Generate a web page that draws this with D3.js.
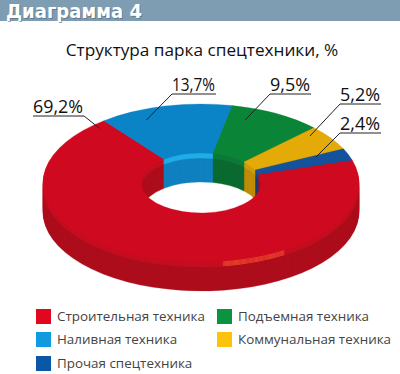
<!DOCTYPE html>
<html>
<head>
<meta charset="utf-8">
<script src="https://cdn.jsdelivr.net/npm/d3@7/dist/d3.min.js"></script>
<style>
  html, body { margin: 0; padding: 0; background: #fff; }
  text { font-family: "Open Sans", sans-serif; }
</style>
</head>
<body>
<div id="vis"></div>
<script>
// the data
const categories = ["Строительная техника", "Наливная техника", "Подъемная техника", "Коммунальная техника", "Прочая спецтехника"];
const shares = [69.2, 13.7, 9.5, 5.2, 2.4];
const shareLabels = ["69,2%", "13,7%", "9,5%", "5,2%", "2,4%"];

// colours per slice
const topColors = ["#cf0a20", "#0a84c6", "#0a8538", "#e3aa08", "#14529c"];
const wallColors = ["#ad0d1c", "#1080c0", "#0a6a30", "#c08c08", "#123e78"];
const rimColors = ["#c40e20", "#20ade6", "#0c7a38", "#d09c08", "#14488a"];
const legendColors = ["#e0081f", "#109ae0", "#0a9440", "#fcc30a", "#0a57a8"];

const width = 400
const height = 374

// donut size, ellipse squash and thickness
const cx = 201, cy = 183, rOuter = 158, rInner = 60, squash = 0.5, depth = 29, rim = 5
const startDeg = 73

// label layout: text left, underline y, underline length, which end the leader leaves,
// and where it lands inside the slice
const labelX = [33, 172, 270, 340, 340]
const labelY = [116, 94, 94, 104, 133]
const labelW = [51, 44, 41, 41, 41]
const leaderFrac = [0.98, 0.29, 0.23, 0.19, 0.16]
const leaderR = [149, 137, 133, 144, 126]
const leaderFromRight = [true, false, false, false, false]

// legend layout
const legendX = [36, 36, 217, 217, 36]
const legendY = [309, 332, 309, 332, 356]
const legendOrder = [0, 1, 2, 3, 4]

const svg = d3.select("#vis").append("svg")
  .attr("width", width)
  .attr("height", height)
  .style("display", "block");

// header band
svg.append("rect").attr("width", width).attr("height", 21).attr("fill", "#7f9db2");
svg.append("text").attr("x", 7).attr("y", 19)
  .attr("fill", "#55636e").attr("opacity", 0.6)
  .attr("textLength", 136).attr("lengthAdjust", "spacingAndGlyphs")
  .style("font-family", "'DejaVu Sans'").style("font-weight", "bold").style("font-size", "19px")
  .text("Диаграмма 4");
svg.append("text").attr("x", 6).attr("y", 18)
  .attr("fill", "#fff")
  .attr("textLength", 136).attr("lengthAdjust", "spacingAndGlyphs")
  .style("font-family", "'DejaVu Sans'").style("font-weight", "bold").style("font-size", "19px")
  .text("Диаграмма 4");

// title
svg.append("text").attr("x", 202).attr("y", 56)
  .attr("text-anchor", "middle").attr("fill", "#111")
  .style("font-size", "17.2px")
  .text("Структура парка спецтехники, %");

const rad = d => d * Math.PI / 180;
const pie = d3.pie().sort(null).startAngle(rad(startDeg)).endAngle(rad(startDeg + 360));
const slices = pie(shares);
const arc = d3.arc().innerRadius(rInner).outerRadius(rOuter);

// stack of rings from the bottom up, the top one is the face
const chart = svg.append("g");
d3.range(depth, -1, -1).forEach(function(dy) {
  chart.append("g")
    .attr("transform", `translate(${cx},${cy + dy}) scale(1,${squash})`)
    .selectAll("path")
    .data(slices)
    .enter()
    .append("path")
      .attr("d", arc)
      .attr("fill", (d, i) => dy == 0 ? topColors[i] : (dy <= rim ? rimColors[i] : wallColors[i]))
      .attr("stroke", (d, i) => dy == 0 ? topColors[i] : (dy <= rim ? rimColors[i] : wallColors[i]))
      .attr("stroke-width", 0.4);

  // light glare on the front rim, it has to sit under the face
  if (dy > 0 && dy <= rim) {
    chart.append("path")
      .attr("transform", `translate(${cx},${cy + dy}) scale(1,${squash})`)
      .attr("d", d3.arc().innerRadius(rOuter - 4).outerRadius(rOuter)({ startAngle: rad(148), endAngle: rad(172) }))
      .attr("fill", "#e8452e");
  }
});

// leaders and value labels
shares.forEach(function(v, i) {
  const s = slices[i];
  const a = s.startAngle + leaderFrac[i] * (s.endAngle - s.startAngle);
  const p = d3.pointRadial(a, leaderR[i]);
  const ex = cx + p[0], ey = cy + p[1] * squash;
  const fromX = leaderFromRight[i] ? labelX[i] + labelW[i] : labelX[i];
  svg.append("path")
    .attr("d", d3.line()([[leaderFromRight[i] ? labelX[i] : labelX[i] + labelW[i], labelY[i]], [fromX, labelY[i]], [ex, ey]]))
    .attr("fill", "none").attr("stroke", "#222").attr("stroke-width", 1);
  svg.append("text").attr("x", labelX[i]).attr("y", labelY[i] - 3)
    .attr("fill", "#111").style("font-size", "17.5px")
    .attr("textLength", labelW[i] - 1).attr("lengthAdjust", "spacingAndGlyphs")
    .text(shareLabels[i]);
});

// legend
legendOrder.forEach(function(k, i) {
  svg.append("rect").attr("x", legendX[i]).attr("y", legendY[i])
    .attr("width", 15).attr("height", 15).attr("fill", legendColors[k]);
  svg.append("text").attr("x", legendX[i] + 21).attr("y", legendY[i] + 12)
    .attr("fill", "#444").style("font-size", "13.4px")
    .text(categories[k]);
});
</script>
</body>
</html>
